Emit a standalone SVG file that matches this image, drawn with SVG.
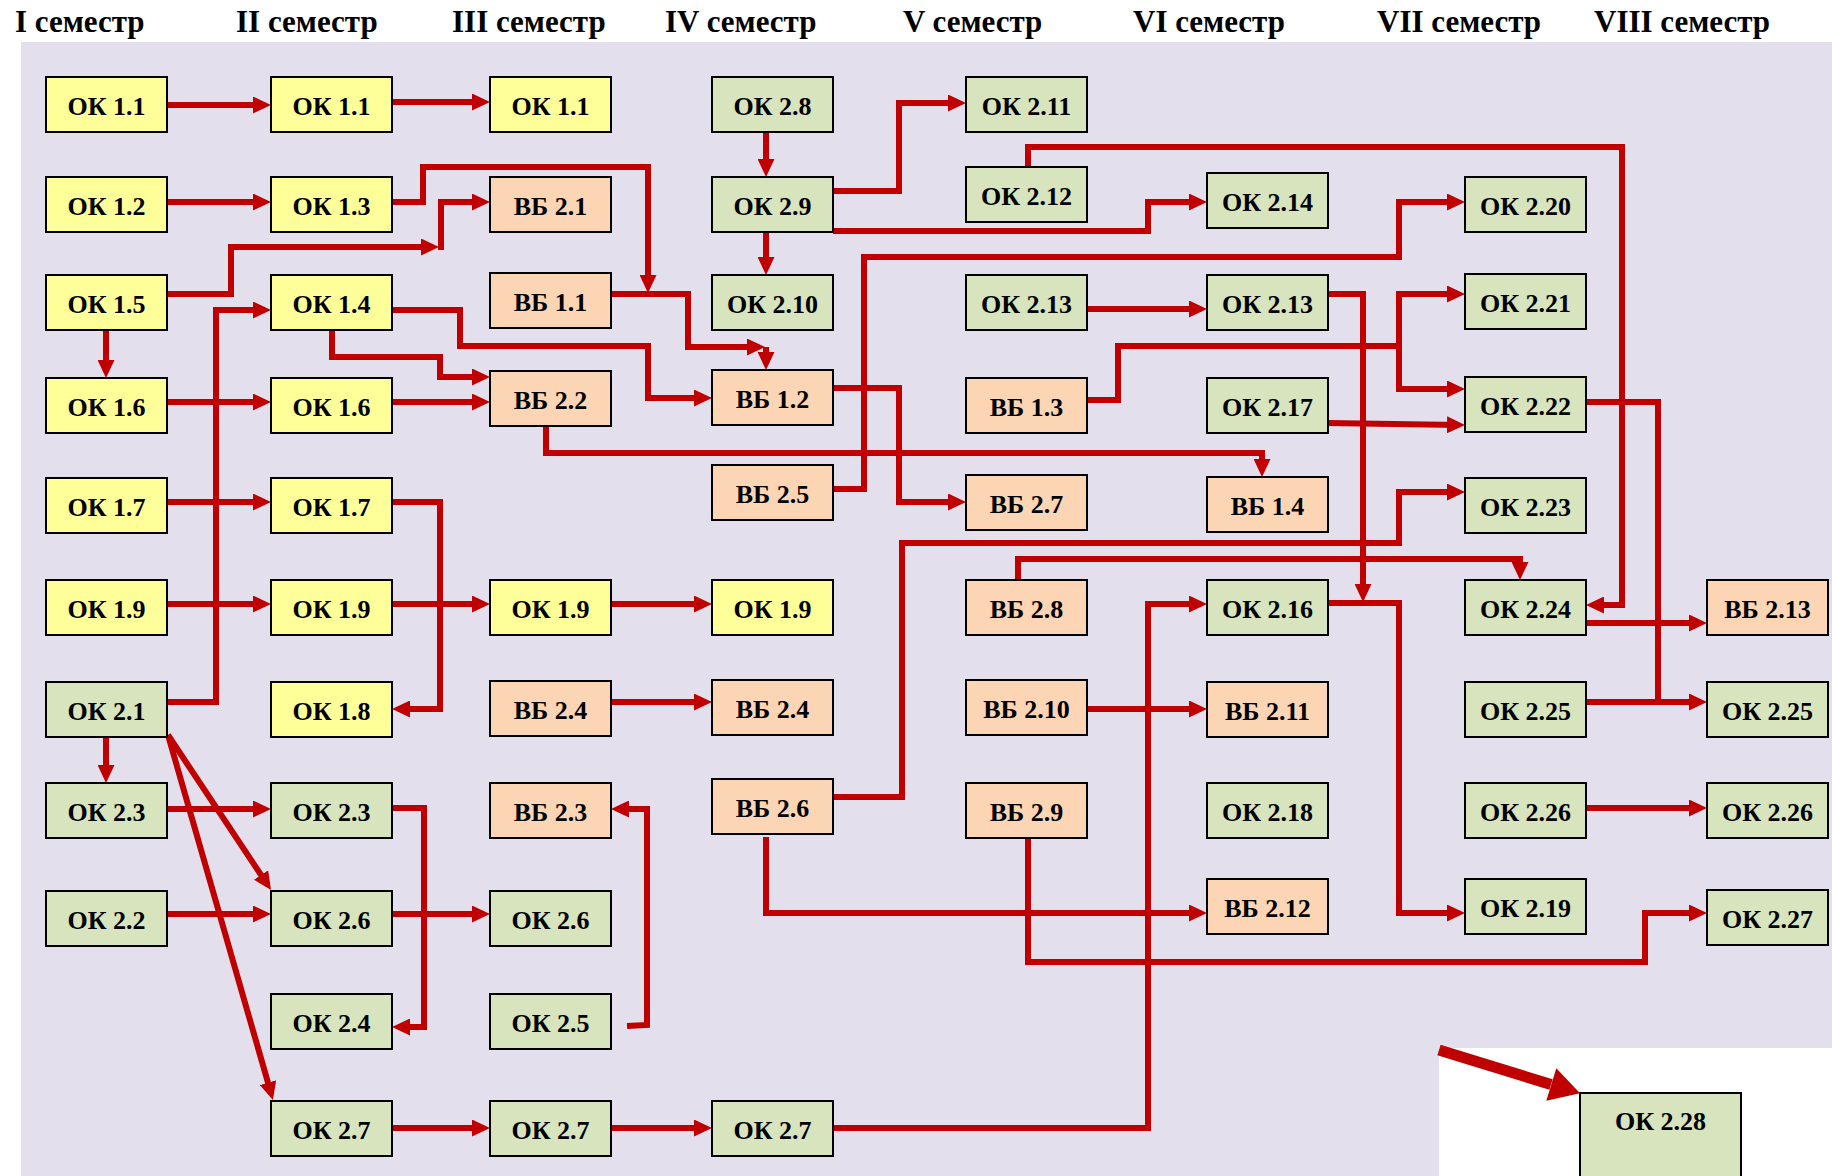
<svg xmlns="http://www.w3.org/2000/svg" width="1832" height="1176" viewBox="0 0 1832 1176">
<style>
.hd{font-family:"Liberation Serif","Times New Roman",serif;font-weight:bold;font-size:31px;fill:#000}
.t{font-family:"Liberation Serif","Times New Roman",serif;font-weight:bold;font-size:26px;fill:#000;text-anchor:middle}
.n rect{stroke:#000;stroke-width:2}
.y rect{fill:#FFFF99}
.g rect{fill:#D7E4BD}
.p rect{fill:#FCD5B5}
.c path{fill:none;stroke:#C00000;stroke-width:6;stroke-linejoin:miter}
.c .ar{marker-end:url(#a)}
</style>
<defs>
<marker id="a" markerUnits="userSpaceOnUse" markerWidth="18" markerHeight="17" viewBox="0 0 18 17" refX="12" refY="8.5" orient="auto">
<path d="M0,0 L18,8.5 L0,17 z" fill="#C00000"/>
</marker>
</defs>
<rect x="0" y="0" width="1832" height="1176" fill="#FFFFFF"/>
<rect x="21" y="42" width="1811" height="1134" fill="#E4DFEC"/>
<rect x="1439" y="1048" width="393" height="128" fill="#FFFFFF"/>
<g id="headers">
<text class="hd" x="15" y="32">I семестр</text>
<text class="hd" x="236" y="32">II семестр</text>
<text class="hd" x="452" y="32">III семестр</text>
<text class="hd" x="665" y="32">IV семестр</text>
<text class="hd" x="903" y="32">V семестр</text>
<text class="hd" x="1133" y="32">VI семестр</text>
<text class="hd" x="1377" y="32">VII семестр</text>
<text class="hd" x="1594" y="32">VIII семестр</text>
</g>
<g id="connectors" class="c">
<path class="ar" d="M167,105 H265"/>
<path class="ar" d="M392,102 H484"/>
<path class="ar" d="M167,202 H265"/>
<path class="ar" d="M392,202 H423 V167 H648 V287"/>
<path class="ar" d="M167,294 H231 V247 H433"/>
<path class="ar" d="M441,250 V202 H484"/>
<path class="ar" d="M106,329 V372"/>
<path class="ar" d="M167,402 H265"/>
<path class="ar" d="M392,402 H484"/>
<path class="ar" d="M332,330 V357 H440 V377 H484"/>
<path class="ar" d="M392,310 H460 V346 H648 V398 H706"/>
<path class="ar" d="M611,294 H688 V347 H759"/>
<path class="ar" d="M766,347 V364"/>
<path class="ar" d="M833,388 H899 V502 H960"/>
<path class="ar" d="M833,489 H864 V257 H1399 V202 H1459"/>
<path class="ar" d="M546,425 V453 H1262 V471"/>
<path class="ar" d="M766,132 V171"/>
<path class="ar" d="M766,232 V269"/>
<path class="ar" d="M833,191 H899 V103 H960"/>
<path class="ar" d="M833,231 H1148 V202 H1201"/>
<path class="ar" d="M1028,167 V147 H1622 V605 H1592"/>
<path class="ar" d="M1087,309 H1201"/>
<path class="ar" d="M1328,294 H1363 V596"/>
<path class="ar" d="M1087,400 H1118 V346 H1399 V294 H1459"/>
<path class="ar" d="M1399,346 V389 H1459"/>
<path class="ar" d="M1328,423 L1459,425"/>
<path d="M1586,402 H1658 V702"/>
<path class="ar" d="M1586,702 H1701"/>
<path class="ar" d="M1586,623 H1701"/>
<path class="ar" d="M1586,808 H1701"/>
<path class="ar" d="M1328,603 H1399 V913 H1459"/>
<path class="ar" d="M1018,580 V559 H1520 V574"/>
<path class="ar" d="M833,797 H902 V543 H1399 V492 H1459"/>
<path class="ar" d="M1087,709 H1201"/>
<path class="ar" d="M833,1128 H1148 V604 H1201"/>
<path class="ar" d="M766,837 V913 H1201"/>
<path class="ar" d="M1028,838 V962 H1645 V913 H1701"/>
<path class="ar" d="M167,502 H265"/>
<path class="ar" d="M392,502 H440 V709 H398"/>
<path class="ar" d="M167,604 H265"/>
<path class="ar" d="M392,604 H484"/>
<path class="ar" d="M611,604 H706"/>
<path class="ar" d="M167,702 H216 V310 H265"/>
<path class="ar" d="M106,737 V777"/>
<path class="ar" d="M168,735 L267.7,885"/>
<path class="ar" d="M168,735 L271.3,1094.2"/>
<path class="ar" d="M167,809 H265"/>
<path class="ar" d="M392,808 H424 V1027 H398"/>
<path class="ar" d="M167,914 H265"/>
<path class="ar" d="M392,914 H484"/>
<path class="ar" d="M627,1026 L647,1025 V809 H617"/>
<path class="ar" d="M611,702 H706"/>
<path class="ar" d="M392,1128 H484"/>
<path class="ar" d="M611,1128 H706"/>
<path d="M1439,1050 L1551,1084.5" style="stroke-width:11"/>
<polygon points="1580,1093.3 1546.3,1100.8 1556.3,1068.2" fill="#C00000"/>
</g>
<g id="s1-ok1-1" class="n y"><rect x="46" y="77" width="121" height="55"/><text class="t" x="106.5" y="114.5">ОК 1.1</text></g>
<g id="s1-ok1-2" class="n y"><rect x="46" y="177" width="121" height="55"/><text class="t" x="106.5" y="214.5">ОК 1.2</text></g>
<g id="s1-ok1-5" class="n y"><rect x="46" y="275" width="121" height="55"/><text class="t" x="106.5" y="312.5">ОК 1.5</text></g>
<g id="s1-ok1-6" class="n y"><rect x="46" y="378" width="121" height="55"/><text class="t" x="106.5" y="415.5">ОК 1.6</text></g>
<g id="s1-ok1-7" class="n y"><rect x="46" y="478" width="121" height="55"/><text class="t" x="106.5" y="515.5">ОК 1.7</text></g>
<g id="s1-ok1-9" class="n y"><rect x="46" y="580" width="121" height="55"/><text class="t" x="106.5" y="617.5">ОК 1.9</text></g>
<g id="s1-ok2-1" class="n g"><rect x="46" y="682" width="121" height="55"/><text class="t" x="106.5" y="719.5">ОК 2.1</text></g>
<g id="s1-ok2-3" class="n g"><rect x="46" y="783" width="121" height="55"/><text class="t" x="106.5" y="820.5">ОК 2.3</text></g>
<g id="s1-ok2-2" class="n g"><rect x="46" y="891" width="121" height="55"/><text class="t" x="106.5" y="928.5">ОК 2.2</text></g>
<g id="s2-ok1-1" class="n y"><rect x="271" y="77" width="121" height="55"/><text class="t" x="331.5" y="114.5">ОК 1.1</text></g>
<g id="s2-ok1-3" class="n y"><rect x="271" y="177" width="121" height="55"/><text class="t" x="331.5" y="214.5">ОК 1.3</text></g>
<g id="s2-ok1-4" class="n y"><rect x="271" y="275" width="121" height="55"/><text class="t" x="331.5" y="312.5">ОК 1.4</text></g>
<g id="s2-ok1-6" class="n y"><rect x="271" y="378" width="121" height="55"/><text class="t" x="331.5" y="415.5">ОК 1.6</text></g>
<g id="s2-ok1-7" class="n y"><rect x="271" y="478" width="121" height="55"/><text class="t" x="331.5" y="515.5">ОК 1.7</text></g>
<g id="s2-ok1-9" class="n y"><rect x="271" y="580" width="121" height="55"/><text class="t" x="331.5" y="617.5">ОК 1.9</text></g>
<g id="s2-ok1-8" class="n y"><rect x="271" y="682" width="121" height="55"/><text class="t" x="331.5" y="719.5">ОК 1.8</text></g>
<g id="s2-ok2-3" class="n g"><rect x="271" y="783" width="121" height="55"/><text class="t" x="331.5" y="820.5">ОК 2.3</text></g>
<g id="s2-ok2-6" class="n g"><rect x="271" y="891" width="121" height="55"/><text class="t" x="331.5" y="928.5">ОК 2.6</text></g>
<g id="s2-ok2-4" class="n g"><rect x="271" y="994" width="121" height="55"/><text class="t" x="331.5" y="1031.5">ОК 2.4</text></g>
<g id="s2-ok2-7" class="n g"><rect x="271" y="1101" width="121" height="55"/><text class="t" x="331.5" y="1138.5">ОК 2.7</text></g>
<g id="s3-ok1-1" class="n y"><rect x="490" y="77" width="121" height="55"/><text class="t" x="550.5" y="114.5">ОК 1.1</text></g>
<g id="s3-vb2-1" class="n p"><rect x="490" y="177" width="121" height="55"/><text class="t" x="550.5" y="214.5">ВБ 2.1</text></g>
<g id="s3-vb1-1" class="n p"><rect x="490" y="273" width="121" height="55"/><text class="t" x="550.5" y="310.5">ВБ 1.1</text></g>
<g id="s3-vb2-2" class="n p"><rect x="490" y="371" width="121" height="55"/><text class="t" x="550.5" y="408.5">ВБ 2.2</text></g>
<g id="s3-ok1-9" class="n y"><rect x="490" y="580" width="121" height="55"/><text class="t" x="550.5" y="617.5">ОК 1.9</text></g>
<g id="s3-vb2-4" class="n p"><rect x="490" y="681" width="121" height="55"/><text class="t" x="550.5" y="718.5">ВБ 2.4</text></g>
<g id="s3-vb2-3" class="n p"><rect x="490" y="783" width="121" height="55"/><text class="t" x="550.5" y="820.5">ВБ 2.3</text></g>
<g id="s3-ok2-6" class="n g"><rect x="490" y="891" width="121" height="55"/><text class="t" x="550.5" y="928.5">ОК 2.6</text></g>
<g id="s3-ok2-5" class="n g"><rect x="490" y="994" width="121" height="55"/><text class="t" x="550.5" y="1031.5">ОК 2.5</text></g>
<g id="s3-ok2-7" class="n g"><rect x="490" y="1101" width="121" height="55"/><text class="t" x="550.5" y="1138.5">ОК 2.7</text></g>
<g id="s4-ok2-8" class="n g"><rect x="712" y="77" width="121" height="55"/><text class="t" x="772.5" y="114.5">ОК 2.8</text></g>
<g id="s4-ok2-9" class="n g"><rect x="712" y="177" width="121" height="55"/><text class="t" x="772.5" y="214.5">ОК 2.9</text></g>
<g id="s4-ok2-10" class="n g"><rect x="712" y="275" width="121" height="55"/><text class="t" x="772.5" y="312.5">ОК 2.10</text></g>
<g id="s4-vb1-2" class="n p"><rect x="712" y="370" width="121" height="55"/><text class="t" x="772.5" y="407.5">ВБ 1.2</text></g>
<g id="s4-vb2-5" class="n p"><rect x="712" y="465" width="121" height="55"/><text class="t" x="772.5" y="502.5">ВБ 2.5</text></g>
<g id="s4-ok1-9" class="n y"><rect x="712" y="580" width="121" height="55"/><text class="t" x="772.5" y="617.5">ОК 1.9</text></g>
<g id="s4-vb2-4" class="n p"><rect x="712" y="680" width="121" height="55"/><text class="t" x="772.5" y="717.5">ВБ 2.4</text></g>
<g id="s4-vb2-6" class="n p"><rect x="712" y="779" width="121" height="55"/><text class="t" x="772.5" y="816.5">ВБ 2.6</text></g>
<g id="s4-ok2-7" class="n g"><rect x="712" y="1101" width="121" height="55"/><text class="t" x="772.5" y="1138.5">ОК 2.7</text></g>
<g id="s5-ok2-11" class="n g"><rect x="966" y="77" width="121" height="55"/><text class="t" x="1026.5" y="114.5">ОК 2.11</text></g>
<g id="s5-ok2-12" class="n g"><rect x="966" y="167" width="121" height="55"/><text class="t" x="1026.5" y="204.5">ОК 2.12</text></g>
<g id="s5-ok2-13" class="n g"><rect x="966" y="275" width="121" height="55"/><text class="t" x="1026.5" y="312.5">ОК 2.13</text></g>
<g id="s5-vb1-3" class="n p"><rect x="966" y="378" width="121" height="55"/><text class="t" x="1026.5" y="415.5">ВБ 1.3</text></g>
<g id="s5-vb2-7" class="n p"><rect x="966" y="475" width="121" height="55"/><text class="t" x="1026.5" y="512.5">ВБ 2.7</text></g>
<g id="s5-vb2-8" class="n p"><rect x="966" y="580" width="121" height="55"/><text class="t" x="1026.5" y="617.5">ВБ 2.8</text></g>
<g id="s5-vb2-10" class="n p"><rect x="966" y="680" width="121" height="55"/><text class="t" x="1026.5" y="717.5">ВБ 2.10</text></g>
<g id="s5-vb2-9" class="n p"><rect x="966" y="783" width="121" height="55"/><text class="t" x="1026.5" y="820.5">ВБ 2.9</text></g>
<g id="s6-ok2-14" class="n g"><rect x="1207" y="173" width="121" height="55"/><text class="t" x="1267.5" y="210.5">ОК 2.14</text></g>
<g id="s6-ok2-13" class="n g"><rect x="1207" y="275" width="121" height="55"/><text class="t" x="1267.5" y="312.5">ОК 2.13</text></g>
<g id="s6-ok2-17" class="n g"><rect x="1207" y="378" width="121" height="55"/><text class="t" x="1267.5" y="415.5">ОК 2.17</text></g>
<g id="s6-vb1-4" class="n p"><rect x="1207" y="477" width="121" height="55"/><text class="t" x="1267.5" y="514.5">ВБ 1.4</text></g>
<g id="s6-ok2-16" class="n g"><rect x="1207" y="580" width="121" height="55"/><text class="t" x="1267.5" y="617.5">ОК 2.16</text></g>
<g id="s6-vb2-11" class="n p"><rect x="1207" y="682" width="121" height="55"/><text class="t" x="1267.5" y="719.5">ВБ 2.11</text></g>
<g id="s6-ok2-18" class="n g"><rect x="1207" y="783" width="121" height="55"/><text class="t" x="1267.5" y="820.5">ОК 2.18</text></g>
<g id="s6-vb2-12" class="n p"><rect x="1207" y="879" width="121" height="55"/><text class="t" x="1267.5" y="916.5">ВБ 2.12</text></g>
<g id="s7-ok2-20" class="n g"><rect x="1465" y="177" width="121" height="55"/><text class="t" x="1525.5" y="214.5">ОК 2.20</text></g>
<g id="s7-ok2-21" class="n g"><rect x="1465" y="274" width="121" height="55"/><text class="t" x="1525.5" y="311.5">ОК 2.21</text></g>
<g id="s7-ok2-22" class="n g"><rect x="1465" y="377" width="121" height="55"/><text class="t" x="1525.5" y="414.5">ОК 2.22</text></g>
<g id="s7-ok2-23" class="n g"><rect x="1465" y="478" width="121" height="55"/><text class="t" x="1525.5" y="515.5">ОК 2.23</text></g>
<g id="s7-ok2-24" class="n g"><rect x="1465" y="580" width="121" height="55"/><text class="t" x="1525.5" y="617.5">ОК 2.24</text></g>
<g id="s7-ok2-25" class="n g"><rect x="1465" y="682" width="121" height="55"/><text class="t" x="1525.5" y="719.5">ОК 2.25</text></g>
<g id="s7-ok2-26" class="n g"><rect x="1465" y="783" width="121" height="55"/><text class="t" x="1525.5" y="820.5">ОК 2.26</text></g>
<g id="s7-ok2-19" class="n g"><rect x="1465" y="879" width="121" height="55"/><text class="t" x="1525.5" y="916.5">ОК 2.19</text></g>
<g id="s8-vb2-13" class="n p"><rect x="1707" y="580" width="121" height="55"/><text class="t" x="1767.5" y="617.5">ВБ 2.13</text></g>
<g id="s8-ok2-25" class="n g"><rect x="1707" y="682" width="121" height="55"/><text class="t" x="1767.5" y="719.5">ОК 2.25</text></g>
<g id="s8-ok2-26" class="n g"><rect x="1707" y="783" width="121" height="55"/><text class="t" x="1767.5" y="820.5">ОК 2.26</text></g>
<g id="s8-ok2-27" class="n g"><rect x="1707" y="890" width="121" height="55"/><text class="t" x="1767.5" y="927.5">ОК 2.27</text></g>
<g id="ok2-28" class="n g"><rect x="1580" y="1093" width="161" height="100"/><text class="t" x="1660.5" y="1130">ОК 2.28</text></g>
</svg>
